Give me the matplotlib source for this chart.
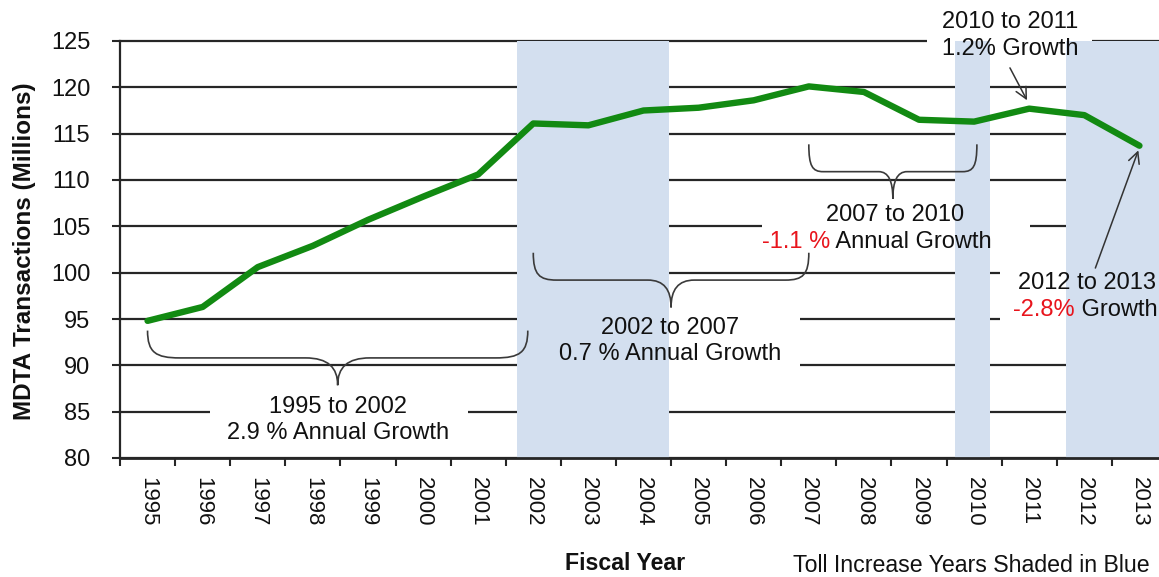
import matplotlib
matplotlib.use("Agg")
import matplotlib.pyplot as plt
from matplotlib.path import Path
from matplotlib.patches import PathPatch, Rectangle
import numpy as np

plt.rcParams['font.family'] = ['Liberation Sans', 'DejaVu Sans']

# annual transactions, millions
years = list(range(1995, 2014))
transactions = [94.8, 96.3, 100.6, 102.9, 105.7, 108.2, 110.6, 116.1, 115.9, 117.5,
                117.8, 118.6, 120.1, 119.5, 116.5, 116.3, 117.7, 117.0, 113.7]

# toll increase periods (shaded)
toll_start = [2001.71, 2009.66, 2011.67]
toll_end = [2004.47, 2010.29, 2013.6]

# growth periods marked with braces
brace_start = [1995, 2002, 2007]
brace_end = [2001.9, 2007, 2010.05]

green = '#128a12'
shade = '#d3dfef'
ink = '#262626'

fig = plt.figure(figsize=(11.59, 5.77), dpi=100)
ax = fig.add_axes([120 / 1159, 119 / 577, 1047 / 1159, 417 / 577])

ax.set_xlim(1994.5, 2013.5)
ax.set_ylim(80, 125)

# gridlines first, then white boxes that break them behind the notes
ax.set_axisbelow(True)
ax.set_yticks(np.arange(80, 126, 5))
ax.yaxis.grid(True, color=ink, lw=1.6)
for gl in ax.get_ygridlines():
    gl.set_clip_on(False)

def blank(x0, x1, y0, y1):
    ax.add_patch(Rectangle((x0, y0), x1 - x0, y1 - y0, facecolor='white',
                           edgecolor='none', zorder=1, clip_on=False))

blank(1996.13, 2000.82, 82.0, 87.5)
blank(2002.18, 2006.84, 88.6, 96.6)
blank(2006.15, 2011.02, 102.0, 107.5)
blank(2010.47, 2013.7, 93.0, 101.2)
blank(2009.15, 2012.14, 123.5, 127.5)

for s, e in zip(toll_start, toll_end):
    ax.axvspan(s, e, ymin=0, ymax=1, color=shade, lw=0, zorder=1.5)

ax.plot(years, transactions, color=green, lw=4.6, solid_joinstyle='round',
        solid_capstyle='round', zorder=3)

# curly braces under each growth period
def brace(x0, x1, y_mid, drop=2.95):
    xm = (x0 + x1) / 2
    r = 0.085 * (x1 - x0)
    yt, yp = y_mid + drop, y_mid - drop
    verts = [(x0, yt),
             (x0, y_mid + 0.2 * drop), (x0 + 0.25 * r, y_mid), (x0 + r, y_mid),
             (xm - r, y_mid),
             (xm - 0.3 * r, y_mid), (xm, y_mid - 0.35 * drop), (xm, yp),
             (xm, y_mid - 0.35 * drop), (xm + 0.3 * r, y_mid), (xm + r, y_mid),
             (x1 - r, y_mid),
             (x1 - 0.25 * r, y_mid), (x1, y_mid + 0.2 * drop), (x1, yt)]
    codes = [Path.MOVETO] + [Path.CURVE4] * 3 + [Path.LINETO] + [Path.CURVE4] * 6 + \
            [Path.LINETO] + [Path.CURVE4] * 3
    ax.add_patch(PathPatch(Path(verts, codes), facecolor='none', edgecolor='#3a3a3a',
                           lw=1.2, zorder=2.5, clip_on=False))

for s, e, ym in zip(brace_start, brace_end, [90.8, 99.2, 110.9]):
    brace(s, e, ym)

fs = 17
ls = 1.25
ax.text(1998.46, 84.1, '1995 to 2002\n2.9 % Annual Growth', ha='center', va='center',
        fontsize=fs, color='#111', zorder=5, linespacing=ls)
ax.text(2004.48, 92.6, '2002 to 2007\n0.7 % Annual Growth', ha='center', va='center',
        fontsize=fs, color='#111', zorder=5, linespacing=ls)
ax.text(2008.57, 106.2, '2007 to 2010', ha='center', va='center',
        fontsize=fs, color='#111', zorder=5)
red1 = ax.text(2006.15, 103.3, '-1.1 %', ha='left', va='center', fontsize=fs,
               color='#e8141c', zorder=5)
ax.annotate(' Annual Growth', xy=(1, 0), xycoords=red1, ha='left', va='bottom',
            fontsize=fs, color='#111', zorder=5)
ax.text(2010.65, 125.6, '2010 to 2011\n1.2% Growth', ha='center', va='center',
        fontsize=fs, color='#111', zorder=5, linespacing=ls)
ax.text(2012.05, 98.9, '2012 to 2013', ha='center', va='center',
        fontsize=fs, color='#111', zorder=5)
red2 = ax.text(2010.71, 96.0, '-2.8%', ha='left', va='center', fontsize=fs,
               color='#e8141c', zorder=5)
ax.annotate(' Growth', xy=(1, 0), xycoords=red2, ha='left', va='bottom',
            fontsize=fs, color='#111', zorder=5, annotation_clip=False)

arrow = dict(arrowstyle='->', color='#333333', lw=1.1, shrinkA=0, shrinkB=0,
             mutation_scale=20)
ax.annotate('', xy=(2010.96, 118.6), xytext=(2010.65, 122.1), arrowprops=arrow,
            zorder=5, annotation_clip=False)
ax.annotate('', xy=(2012.98, 113.2), xytext=(2012.2, 100.5), arrowprops=arrow,
            zorder=5, annotation_clip=False)

# axes styling
for side in ['top', 'right']:
    ax.spines[side].set_visible(False)
ax.spines['left'].set_color(ink)
ax.spines['left'].set_linewidth(1.6)
ax.spines['bottom'].set_color(ink)
ax.spines['bottom'].set_linewidth(2)

ax.set_xticks(np.arange(1994.5, 2014, 1))
ax.set_xticks(years, minor=True)
ax.set_xticklabels([str(y) for y in years], minor=True, rotation=-90, fontsize=16,
                   color='#111')
ax.tick_params(axis='x', which='major', length=5.5, width=1.5, color=ink,
               labelbottom=False, direction='out')
ax.tick_params(axis='x', which='minor', length=0, pad=14)
ax.tick_params(axis='y', length=5.5, width=1.5, color=ink, pad=16, labelsize=17,
               labelcolor='#111')

fig.text(25 / 1159, 1 - 251 / 577, 'MDTA Transactions (Millions)', rotation=90,
         ha='center', va='center', fontsize=17.5, fontweight='bold', color='#111')
fig.text(625 / 1159, 1 - 563 / 577, 'Fiscal Year', ha='center', va='center',
         fontsize=16.7, fontweight='bold', color='#111')
fig.text(793 / 1159, 1 - 565 / 577, 'Toll Increase Years Shaded in Blue', ha='left',
         va='center', fontsize=16.7, color='#111')

fig.savefig('out.png', dpi=100)
